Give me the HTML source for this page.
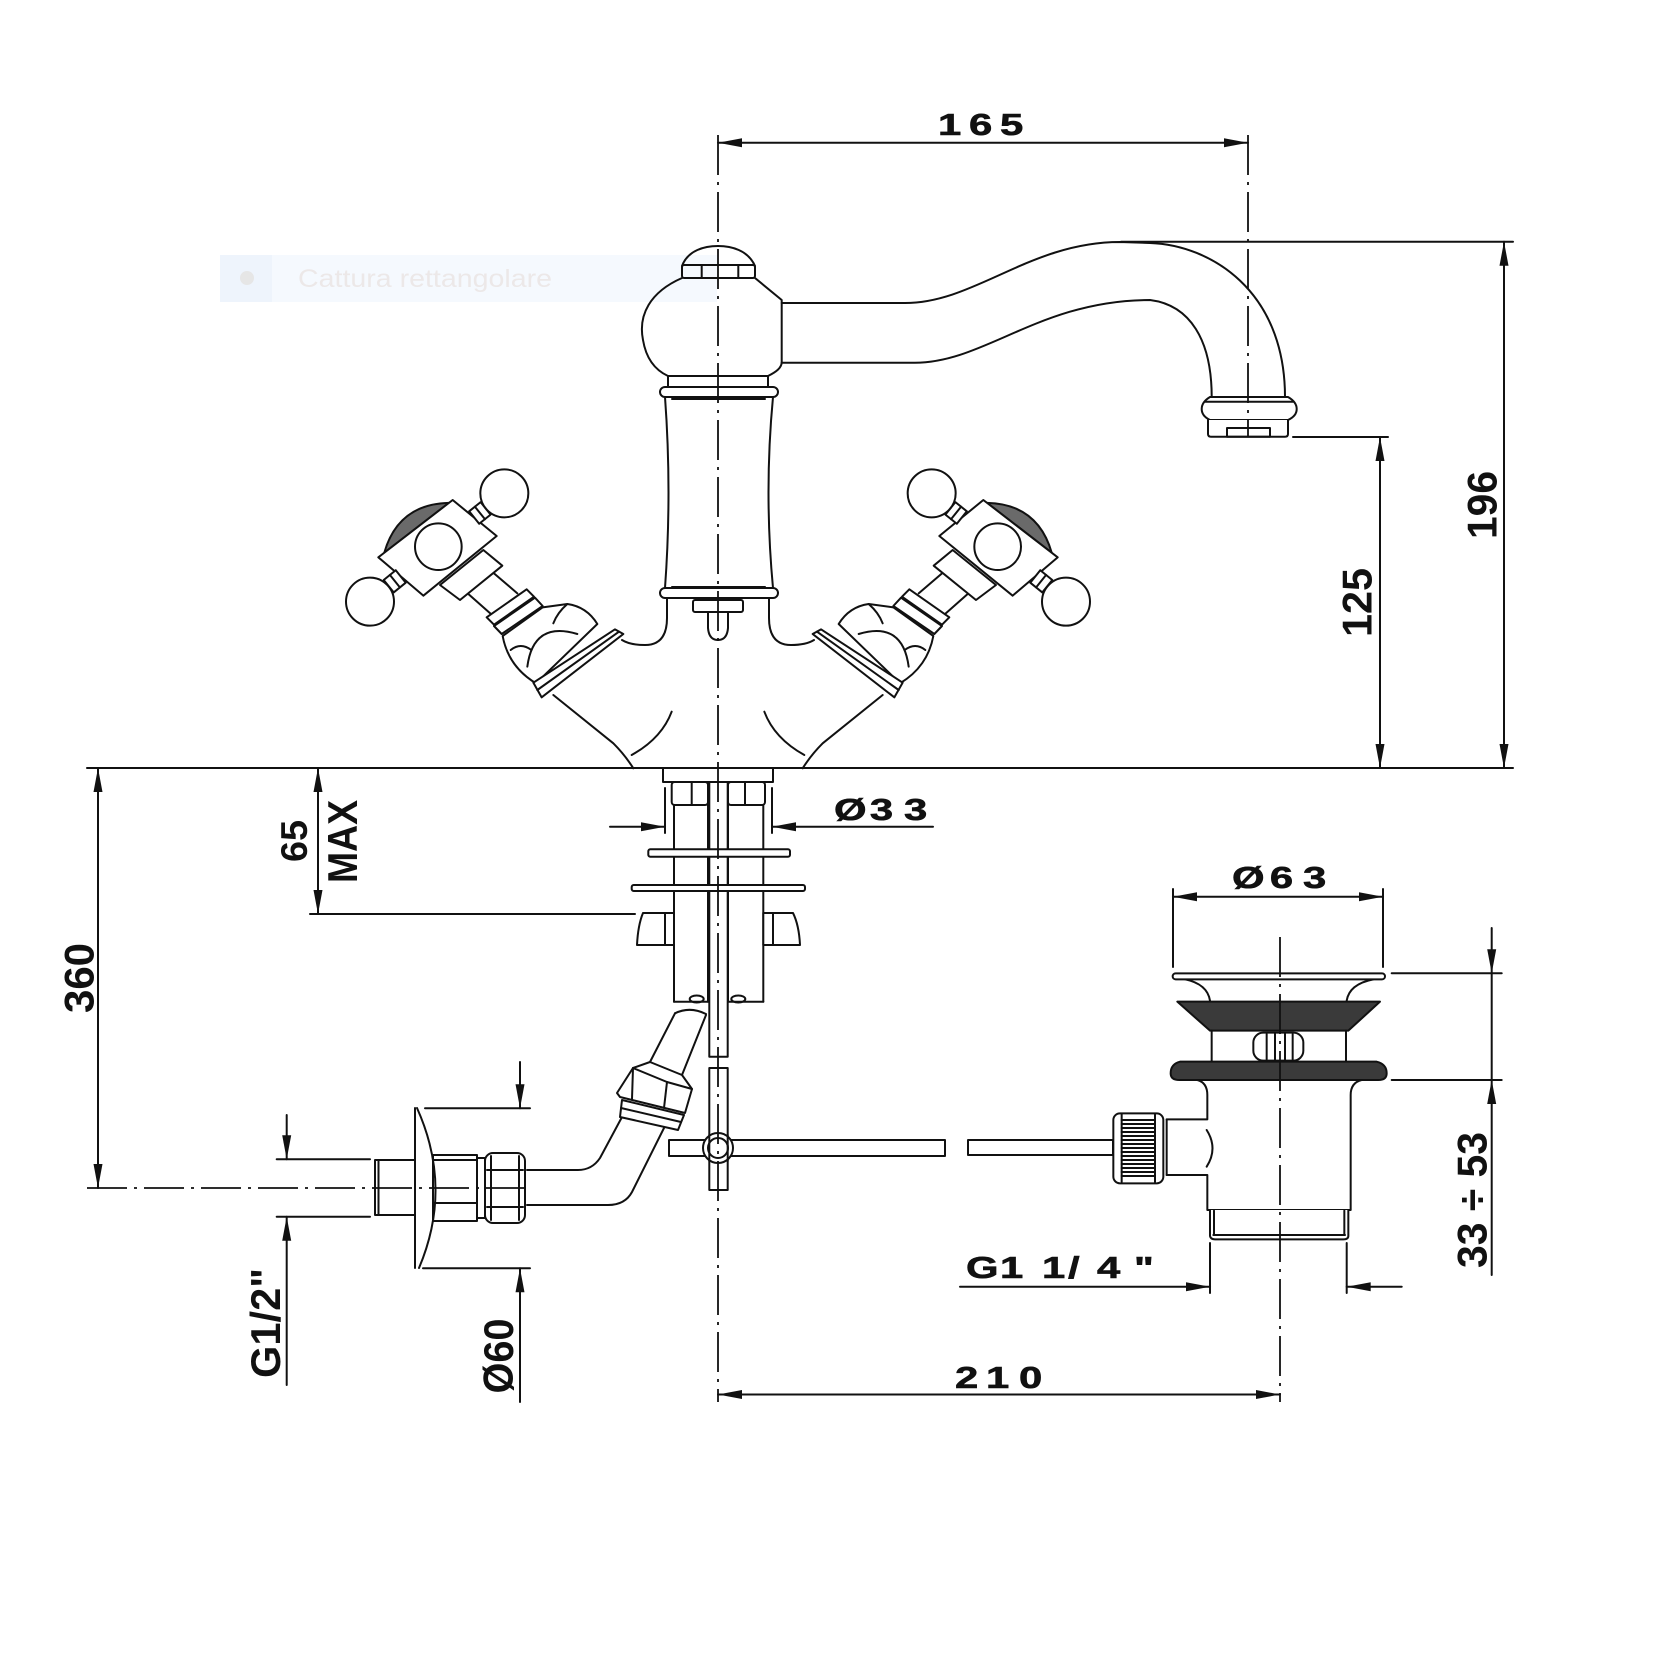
<!DOCTYPE html>
<html>
<head>
<meta charset="utf-8">
<style>
html,body{margin:0;padding:0;background:#fff;}
svg{display:block;}
</style>
</head>
<body>
<svg width="1660" height="1660" viewBox="0 0 1660 1660" xmlns="http://www.w3.org/2000/svg">
<rect width="1660" height="1660" fill="#fff"/>

<!-- watermark -->
<rect x="220" y="255" width="497" height="47" fill="#f5f9fe"/>
<rect x="220" y="255" width="52" height="47" fill="#eef4fc"/>
<circle cx="247" cy="278" r="7" fill="#e6e6e6"/>
<text x="298" y="287" font-family="Liberation Sans, Arial, sans-serif" font-size="25" fill="#ece8e8" textLength="254" lengthAdjust="spacingAndGlyphs">Cattura rettangolare</text>

<g fill="none" stroke="#111" stroke-width="2" stroke-linejoin="round" stroke-linecap="round">

<!-- ===== dimension lines ===== -->
<line x1="718" y1="142.7" x2="1248" y2="142.7"/>
<line x1="1121" y1="241.7" x2="1513" y2="241.7"/>
<line x1="1504" y1="241.7" x2="1504" y2="768"/>
<line x1="1293" y1="437" x2="1388" y2="437"/>
<line x1="1380" y1="437" x2="1380" y2="768"/>
<line x1="87" y1="768" x2="1513" y2="768"/>
<line x1="98" y1="768" x2="98" y2="1188"/>
<line x1="318" y1="768" x2="318" y2="914"/>
<line x1="310" y1="914" x2="635" y2="914"/>
<!-- Ø33 -->
<line x1="665" y1="788" x2="665" y2="833"/>
<line x1="772" y1="788" x2="772" y2="833"/>
<line x1="610" y1="826.7" x2="665" y2="826.7"/>
<line x1="772" y1="826.7" x2="933" y2="826.7"/>
<!-- Ø63 -->
<line x1="1173" y1="896.7" x2="1383" y2="896.7"/>
<line x1="1173" y1="889" x2="1173" y2="967"/>
<line x1="1383" y1="889" x2="1383" y2="967"/>
<!-- 33÷53 -->
<line x1="1391.7" y1="973.3" x2="1501.7" y2="973.3"/>
<line x1="1391.7" y1="1080" x2="1501.7" y2="1080"/>
<line x1="1491.7" y1="928" x2="1491.7" y2="1275"/>
<!-- G1 1/4 -->
<line x1="1210" y1="1243" x2="1210" y2="1293"/>
<line x1="1346.7" y1="1243" x2="1346.7" y2="1293"/>
<line x1="960" y1="1286.7" x2="1210" y2="1286.7"/>
<line x1="1346.7" y1="1286.7" x2="1401.7" y2="1286.7"/>
<!-- 210 -->
<line x1="718" y1="1394.5" x2="1280" y2="1394.5"/>
<!-- G1/2 -->
<line x1="276.7" y1="1159.3" x2="370" y2="1159.3"/>
<line x1="276.7" y1="1216.7" x2="370" y2="1216.7"/>
<line x1="286.7" y1="1115" x2="286.7" y2="1159.3"/>
<line x1="286.7" y1="1216.7" x2="286.7" y2="1385"/>
<!-- Ø60 -->
<line x1="425" y1="1108.3" x2="530" y2="1108.3"/>
<line x1="423" y1="1268.3" x2="530" y2="1268.3"/>
<line x1="520" y1="1062" x2="520" y2="1108.3"/>
<line x1="520" y1="1268.3" x2="520" y2="1402"/>

<!-- ===== tap body column ===== -->
<path d="M682,266 C688,250 705,246 718,246 C731,246 748,250 755,266"/>
<rect x="682" y="265" width="73" height="13" rx="2"/>
<line x1="701.7" y1="265" x2="701.7" y2="278"/>
<line x1="738.3" y1="265" x2="738.3" y2="278"/>
<!-- spout -->
<path d="M781.7,303 L905,303 C975,303 1030,242 1120,242 L1150,243 C1210,245 1285,290 1285,397"/>
<path d="M781.7,362.7 L915,362.7 C985,362.7 1040,300 1150,300 C1190,305 1211.7,340 1211.7,397"/>
<!-- aerator -->
<path d="M1210,397 L1288,397 Q1296.7,402 1296.7,409 Q1296.7,416 1288,420 L1210,420 Q1201.7,416 1201.7,409 Q1201.7,402 1210,397 Z" fill="#fff"/>
<line x1="1205" y1="401.7" x2="1293" y2="401.7"/>
<path d="M1208,420 L1208,434 Q1208,436.7 1211,436.7 L1285,436.7 Q1288,436.7 1288,434 L1288,420" fill="#fff"/>
<rect x="1227" y="428" width="43" height="8.7"/>
<!-- ball -->
<path d="M682,278 C650,292 638,315 643,340 C646,358 655,370 668,376 L768,376 C776,372 781.7,368 781.7,362 L781.7,300 L755,278"/>
<line x1="668" y1="376" x2="668" y2="387"/>
<line x1="768" y1="376" x2="768" y2="387"/>
<rect x="660" y="387" width="118" height="10" rx="5" fill="#fff"/>
<line x1="672" y1="399" x2="765" y2="399"/>
<path d="M665,397 Q672,492 665,588"/>
<path d="M773,397 Q764,492 773,588"/>
<line x1="672" y1="587" x2="765" y2="587"/>
<rect x="660" y="588" width="118" height="10" rx="5" fill="#fff"/>
<path d="M667,598 L667,618 Q667,645 645,645 Q630,645 622,640"/>
<path d="M769,598 L769,618 Q769,645 791,645 Q806,645 814,640"/>
<rect x="693" y="600" width="50" height="12" rx="2" fill="#fff"/>
<path d="M708,612 L708,628 Q709,640 718,640 Q727,640 728,628 L728,612"/>

<!-- ===== stem under deck ===== -->
<path d="M663,768 L663,782 L773,782 L773,768"/>
<rect x="671.7" y="782" width="36.3" height="23" rx="3" fill="#fff"/>
<line x1="691.7" y1="782" x2="691.7" y2="805"/>
<rect x="728" y="782" width="37" height="23" rx="3" fill="#fff"/>
<line x1="745" y1="782" x2="745" y2="805"/>
<line x1="674" y1="805" x2="674" y2="1001.7"/>
<line x1="708" y1="805" x2="708" y2="1001.7"/>
<line x1="728" y1="805" x2="728" y2="1001.7"/>
<line x1="763.3" y1="805" x2="763.3" y2="1001.7"/>
<line x1="674" y1="1001.7" x2="708" y2="1001.7"/>
<line x1="728" y1="1001.7" x2="763.3" y2="1001.7"/>
<ellipse cx="696.7" cy="999" rx="7" ry="3.5"/>
<ellipse cx="738.3" cy="999" rx="7" ry="3.5"/>
<rect x="709.3" y="782" width="18.4" height="274.7" fill="#fff"/>
<rect x="648.3" y="849.3" width="141.7" height="7.4" rx="2" fill="#fff"/>
<rect x="631.7" y="885" width="173.3" height="6" rx="2" fill="#fff"/>
<path d="M674,913 L643,913 Q638,925 637,945 L674,945 Z" fill="#fff"/>
<line x1="665" y1="913" x2="665" y2="945"/>
<path d="M763.3,913 L793,913 Q799,925 800,945 L763.3,945 Z" fill="#fff"/>
<line x1="773" y1="913" x2="773" y2="945"/>
<!-- lower rod -->
<rect x="709.3" y="1068" width="18.4" height="122" fill="#fff"/>
<!-- lever -->
<rect x="669" y="1140" width="276" height="16" fill="#fff"/>
<rect x="968" y="1140" width="145" height="15" fill="#fff"/>
<circle cx="718" cy="1148" r="15" fill="#fff"/>
<circle cx="718" cy="1148" r="10"/>
<line x1="709.3" y1="1135" x2="709.3" y2="1161"/>
<line x1="727.7" y1="1135" x2="727.7" y2="1161"/>

<!-- ===== hose and supply ===== -->
<path d="M675,1013.3 Q690,1006 706,1014"/>
<line x1="675" y1="1013.3" x2="650" y2="1062"/>
<line x1="706" y1="1015" x2="682" y2="1075"/>
<path d="M622,1117 L600,1158 Q592,1170 578,1170 L527,1170"/>
<path d="M664,1128 L632,1192 Q625,1205 608,1205 L527,1205"/>
<polygon points="622,1100 684,1115 678,1130 620,1117" fill="#fff"/>
<line x1="621" y1="1108" x2="681" y2="1122"/>
<polygon points="617,1093 633,1068 650,1062 682,1075 692,1089 685,1113 620,1097" fill="#fff"/>
<polyline points="633,1068 667,1082 692,1089"/>
<line x1="667" y1="1082" x2="664" y2="1108"/>
<line x1="633" y1="1068" x2="632" y2="1099"/>
<rect x="485" y="1153" width="40" height="70" rx="8" fill="#fff"/>
<line x1="487" y1="1170" x2="523" y2="1170"/>
<line x1="487" y1="1207" x2="523" y2="1207"/>
<line x1="491" y1="1156" x2="491" y2="1220"/>
<line x1="519" y1="1156" x2="519" y2="1220"/>
<rect x="477" y="1158" width="8" height="60" fill="#fff"/>
<rect x="433" y="1155" width="44" height="66" fill="#fff"/>
<line x1="433" y1="1160" x2="477" y2="1160"/>
<line x1="433" y1="1203" x2="477" y2="1203"/>
<line x1="415" y1="1108" x2="415" y2="1268"/>
<path d="M417,1108 Q453,1188 419,1268"/>
<rect x="375" y="1160" width="40" height="55" fill="#fff"/>
<line x1="378.5" y1="1160" x2="378.5" y2="1215"/>

<!-- ===== left handle (mirrored for right) ===== -->
<g id="hl" transform="translate(320,450) scale(0.333333)" stroke-width="6">
 <path fill="none" d="M700,735 L880,880 Q915,915 940,955"/>
 <path fill="none" d="M935,915 Q1025,865 1055,785"/>
 <line x1="445" y1="432" x2="515" y2="494"/>
 <line x1="522" y1="370" x2="592" y2="430"/>
 <path fill="#fff" d="M548,558 L668,472 L742,462 Q800,470 832,522 L648,700 Q565,650 548,558 Z"/>
 <path fill="none" d="M572,600 Q602,576 634,600"/>
 <path fill="none" d="M622,650 Q640,512 772,552"/>
 <path fill="none" d="M742,462 Q712,488 700,520"/>
 <polygon fill="#fff" points="640,698 885,538 910,552 665,742"/>
 <line x1="652" y1="720" x2="897" y2="545"/>
 <polygon fill="#fff" points="522,528 645,443 668,468 545,552"/>
 <polygon fill="#fff" points="500,502 620,418 642,440 522,524"/>
 <polygon fill="#fff" points="360,405 490,300 547,347 420,450"/>
 <path fill="#6a6a6a" d="M192.8,308.2 Q234.9,162.1 386.9,158.6 Z"/>
 <polygon fill="#fff" points="175,322 398,150 530,258 310,437"/>
 <circle fill="#fff" cx="355" cy="290" r="70"/>
 <polygon fill="#fff" points="481.8,156.4 511.8,193.8 477.5,221.3 447.5,183.9"/>
 <line x1="494.7" y1="207.5" x2="464.7" y2="170.1"/>
 <polygon fill="#fff" points="257.2,398.1 227.2,360.7 191.1,389.9 221.1,427.3"/>
 <line x1="239.6" y1="412.2" x2="209.6" y2="374.8"/>
 <circle fill="#fff" cx="553" cy="130" r="72"/>
 <circle fill="#fff" cx="150" cy="455" r="72"/>
</g>
<use href="#hl" transform="translate(1436,0) scale(-1,1)"/>

<!-- ===== drain ===== -->
<g transform="translate(1100,860) scale(0.333333)" stroke-width="6">
 <path d="M255,358 Q322,372 330,422"/>
 <path d="M820,358 Q748,372 740,422"/>
 <rect x="218" y="340" width="637" height="18" rx="9" fill="#fff"/>
 <polygon points="232,425 840,425 745,512 330,512" fill="#3a3a3a"/>
 <line x1="335" y1="512" x2="335" y2="605"/>
 <line x1="738" y1="512" x2="738" y2="605"/>
 <rect x="460" y="518" width="150" height="84" rx="30" fill="#fff"/>
 <line x1="500" y1="522" x2="500" y2="598"/>
 <line x1="525" y1="520" x2="525" y2="600"/>
 <line x1="555" y1="520" x2="555" y2="600"/>
 <line x1="578" y1="522" x2="578" y2="598"/>
 <path d="M240,605 L830,605 Q860,612 860,640 Q860,660 835,660 L238,660 Q212,660 212,640 Q212,612 240,605 Z" fill="#3a3a3a"/>
 <path d="M292,660 Q322,668 322,705 L322,778 L200,778"/>
 <path d="M200,945 L322,945 L322,1050 L752,1050 L752,705 Q752,668 785,660"/>
 <path d="M320,810 Q355,865 320,920"/>
 <line x1="200" y1="778" x2="200" y2="945"/>
 <path d="M330,1050 L330,1128 Q332,1138 345,1138 L730,1138 Q745,1138 745,1128 L745,1050" fill="#fff"/>
 <line x1="340" y1="1125" x2="735" y2="1125"/>
 <line x1="342" y1="1052" x2="342" y2="1125"/>
 <line x1="733" y1="1052" x2="733" y2="1125"/>
 <rect x="40" y="760" width="150" height="210" rx="20" fill="#fff"/>
 <line x1="65" y1="764" x2="65" y2="966"/>
 <line x1="165" y1="764" x2="165" y2="966"/>
 <path d="M65,780 H165 M65,792 H165 M65,804 H165 M65,816 H165 M65,828 H165 M65,840 H165 M65,852 H165 M65,864 H165 M65,876 H165 M65,888 H165 M65,900 H165 M65,912 H165 M65,924 H165 M65,936 H165 M65,948 H165"/>
</g>

<!-- ===== centre lines ===== -->
<g stroke-width="1.8" stroke-dasharray="40 7 3 7" stroke-linecap="butt">
 <line x1="718" y1="135" x2="718" y2="1402"/>
 <line x1="1248" y1="135" x2="1248" y2="437"/>
 <line x1="1280" y1="937" x2="1280" y2="1402"/>
 <line x1="87" y1="1188" x2="528" y2="1188"/>
</g>
</g>

<!-- ===== arrowheads ===== -->
<g fill="#111" stroke="none">
 <polygon points="718,142.7 742,138.2 742,147.2"/>
 <polygon points="1248,142.7 1224,138.2 1224,147.2"/>
 <polygon points="1504,241.7 1499.5,265.7 1508.5,265.7"/>
 <polygon points="1504,768 1499.5,744 1508.5,744"/>
 <polygon points="1380,437 1375.5,461 1384.5,461"/>
 <polygon points="1380,768 1375.5,744 1384.5,744"/>
 <polygon points="98,768 93.5,792 102.5,792"/>
 <polygon points="98,1188 93.5,1164 102.5,1164"/>
 <polygon points="318,768 313.5,792 322.5,792"/>
 <polygon points="318,914 313.5,890 322.5,890"/>
 <polygon points="665,826.7 641,822.2 641,831.2"/>
 <polygon points="772,826.7 796,822.2 796,831.2"/>
 <polygon points="1173,896.7 1197,892.2 1197,901.2"/>
 <polygon points="1383,896.7 1359,892.2 1359,901.2"/>
 <polygon points="1491.7,973.3 1487.2,949.3 1496.2,949.3"/>
 <polygon points="1491.7,1080 1487.2,1104 1496.2,1104"/>
 <polygon points="1210,1286.7 1186,1282.2 1186,1291.2"/>
 <polygon points="1346.7,1286.7 1370.7,1282.2 1370.7,1291.2"/>
 <polygon points="718,1394.5 742,1390 742,1399"/>
 <polygon points="1280,1394.5 1256,1390 1256,1399"/>
 <polygon points="286.7,1159.3 282.2,1135.3 291.2,1135.3"/>
 <polygon points="286.7,1216.7 282.2,1240.7 291.2,1240.7"/>
 <polygon points="520,1108.3 515.5,1084.3 524.5,1084.3"/>
 <polygon points="520,1268.3 515.5,1292.3 524.5,1292.3"/>
</g>

<!-- ===== labels ===== -->
<g font-family="Liberation Sans, Arial, sans-serif" font-weight="bold" fill="#111">
 <g font-size="31" stroke="#111" stroke-width="0.6">
  <text transform="scale(1.35,1)" x="694.8 717.8 740.7" y="135">165</text>
  <text transform="scale(1.35,1)" x="617.8 644.4 669.6" y="820">Ø33</text>
  <text transform="scale(1.35,1)" x="912.6 940.7 965.2" y="888">Ø63</text>
  <text transform="scale(1.35,1)" x="707.4 730.4 754.8" y="1388">210</text>
  <text transform="scale(1.35,1)" x="715.6 740.7 771.9 791.1 812.6 840" y="1278">G11/4"</text>
 </g>
 <g font-size="42" text-anchor="middle">
  <text transform="translate(1496.7,505) rotate(-90)" textLength="68" lengthAdjust="spacingAndGlyphs">196</text>
  <text transform="translate(1371.7,602.5) rotate(-90)" textLength="69" lengthAdjust="spacingAndGlyphs">125</text>
  <text transform="translate(93.3,978) rotate(-90)" textLength="70" lengthAdjust="spacingAndGlyphs">360</text>
  <text transform="translate(307,841) rotate(-90)" font-size="37" textLength="42" lengthAdjust="spacingAndGlyphs">65</text>
  <text transform="translate(357,841.5) rotate(-90)" textLength="83" lengthAdjust="spacingAndGlyphs">MAX</text>
  <text transform="translate(1486.7,1200) rotate(-90)" textLength="136" lengthAdjust="spacingAndGlyphs">33 ÷ 53</text>
  <text transform="translate(280,1323) rotate(-90)" textLength="110" lengthAdjust="spacingAndGlyphs">G1/2"</text>
  <text transform="translate(513,1356) rotate(-90)" textLength="75" lengthAdjust="spacingAndGlyphs">Ø60</text>
 </g>
</g>
</svg>
</body>
</html>
